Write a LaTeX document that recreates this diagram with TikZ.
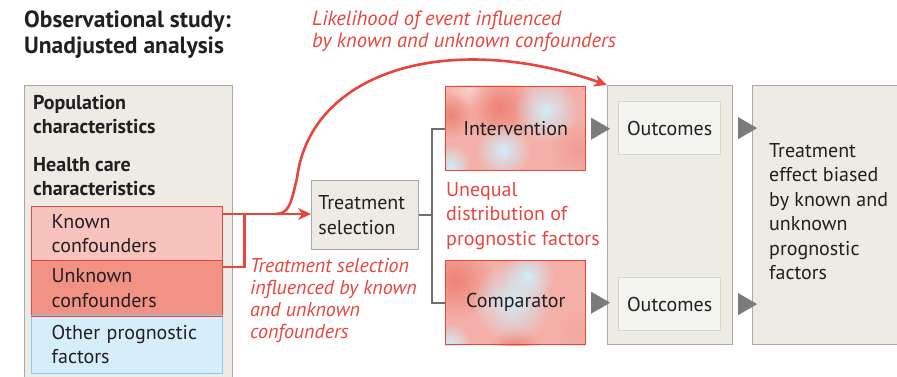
\documentclass[tikz,border=0pt]{standalone}
\usepackage{fontspec}
\setmainfont{PT Sans}
\usetikzlibrary{arrows.meta,calc,fadings}

\definecolor{ink}{HTML}{231F20}
\definecolor{panel}{HTML}{EEEBE5}
\definecolor{panelline}{HTML}{A9A9A9}
\definecolor{jred}{HTML}{E8453C}
\definecolor{knownfill}{HTML}{F7C3BC}
\definecolor{unknownfill}{HTML}{F29285}
\definecolor{otherfill}{HTML}{D6EEF9}
\definecolor{otherline}{HTML}{7FD0F2}
\definecolor{outfill}{HTML}{F5F5F0}
\definecolor{outline}{HTML}{D9D5C6}
\definecolor{pinkbase}{HTML}{F4B0A8}
\definecolor{salmon}{HTML}{EE8275}
\definecolor{paleblue}{HTML}{D2ECF8}
\definecolor{tri}{HTML}{7B7B7D}
\definecolor{wire}{HTML}{6E6E6E}

\tikzfading[name=blob, inner color=transparent!0, outer color=transparent!100]

\tikzset{
  body/.style={font=\fontsize{20}{24.5}\selectfont},
  txt/.style={body, text=ink, inner sep=0pt, anchor=north west, align=left},
  redtxt/.style={txt, text=jred},
  panelbox/.style={draw=panelline, fill=panel, line width=0.8pt, anchor=north west, inner sep=0pt},
  confbox/.style={body, text=ink, draw=jred, line width=1.4pt, anchor=north west,
    minimum width=191pt, inner xsep=20pt, text width=151pt, align=left},
  outbox/.style={body, text=ink, draw=outline, fill=outfill, line width=1.2pt, anchor=north west,
    minimum width=102pt, minimum height=53pt, inner sep=0pt},
  armbox/.style={body, text=ink, draw=jred, line width=1.4pt, anchor=north west,
    minimum width=140pt, minimum height=84pt, inner sep=0pt},
  redline/.style={draw=jred, line width=2.6pt},
  redarrow/.style={redline, -{Stealth[length=13pt,width=12pt]}},
  wireline/.style={draw=wire, line width=1.8pt},
  triarrow/.style={draw=tri, fill=tri, line width=0.4pt, -{Triangle[length=19pt,width=22pt]}}
}

\begin{document}
\begin{tikzpicture}[x=1pt,y=1pt,yscale=-1]
\useasboundingbox (0,0) rectangle (897,377);
\clip (0,0) rectangle (897,377);

% title
\node[txt, font=\fontsize{23.5}{25.5}\bfseries] (title) at (24,11) {Observational study:\\Unadjusted analysis};

% population column
\node[panelbox, minimum width=208pt, minimum height=300pt] (pop) at (24,85) {};
\node[txt, font=\fontsize{20}{24.5}\bfseries] (popchar) at (33,95) {Population\\characteristics};
\node[txt, font=\fontsize{20}{24.5}\bfseries] (hcchar) at (33,157) {Health care\\characteristics};

\node[confbox, fill=knownfill, minimum height=54pt] (known) at (31,206) {Known\\confounders};
\node[confbox, fill=unknownfill, minimum height=55pt] (unknown) at (31,260) {Unknown\\confounders};
\node[confbox, fill=otherfill, draw=otherline, minimum height=58pt] (other) at (31,315) {Other prognostic\\factors};
% redraw the shared red edge on top of the blue box
\draw[jred, line width=1.4pt] (unknown.south west) -- (unknown.south east);

% treatment selection
\node[panelbox, body, text=ink, minimum width=107pt, minimum height=69pt,
      inner xsep=7pt, text width=93pt, align=left] (sel) at (311,180) {Treatment\\selection};

% outcome column and result
\node[panelbox, minimum width=125pt, minimum height=259pt] (outcol) at (607,85) {};
\node[outbox] (outA) at (618,101) {Outcomes};
\node[outbox] (outB) at (618,277) {Outcomes};
\node[panelbox, minimum width=175pt, minimum height=259pt] (effect) at (752,85) {};
\node[txt] (effecttxt) at (769,143)
      {Treatment\\effect biased\\by known and\\unknown\\prognostic\\factors};

% intervention arm, mottled fill
\begin{scope}
  \clip (445,86) rectangle (585,170);
  \fill[pinkbase] (445,86) rectangle (585,170);
  \fill[white!40!pinkbase, path fading=blob] (470,88) circle (26);
  \fill[salmon, path fading=blob] (500,108) circle (34);
  \fill[salmon, path fading=blob] (450,115) circle (24);
  \fill[salmon!80, path fading=blob] (578,150) circle (28);
  \fill[paleblue, path fading=blob] (546,110) circle (32);
  \fill[paleblue, path fading=blob] (503,150) circle (28);
  \fill[paleblue, path fading=blob] (450,166) circle (22);
\end{scope}
\node[armbox] (interv) at (445,86) {Intervention};

% comparator arm, mottled fill
\begin{scope}
  \clip (445,260) rectangle (585,345);
  \fill[pinkbase] (445,260) rectangle (585,345);
  \fill[salmon, path fading=blob] (455,280) circle (40);
  \fill[salmon, path fading=blob] (515,352) circle (26);
  \fill[salmon!70, path fading=blob] (582,330) circle (26);
  \fill[paleblue, path fading=blob] (512,302) circle (40);
  \fill[paleblue, path fading=blob] (528,276) circle (26);
  \fill[paleblue, path fading=blob] (450,345) circle (22);
\end{scope}
\node[armbox] (comp) at (445,260) {Comparator};

% grey split into the two arms
\draw[wireline] (sel.east) -- ++(14,0);
\draw[wireline] (interv.west) -- ++(-13,0) |- (comp.west);

% red confounder links
\draw[redline] ($(unknown.north east)+(0,7)$) -| ($(known.north east)+(21,8)$);
\draw[redarrow] ($(known.north east)+(0,8)$) -- (sel.west |- {$(known.north east)+(0,8)$});
\draw[redarrow] ($(known.north east)+(52,8)$) .. controls ($(known.north east)+(66,8)$) and (291,203) .. (297,178)
      .. controls (311,70) and (450,30) .. (outcol.north west);

% grey pointers
\draw[triarrow, shorten <=5pt, shorten >=-3pt] (interv.east) -- (interv.east -| outcol.west);
\draw[triarrow, shorten <=5pt, shorten >=-3pt] (comp.east) -- (comp.east -| outcol.west);
\draw[triarrow, shorten <=6pt, shorten >=-5pt] (outA.east -| outcol.east) -- (outA.east -| effect.west);
\draw[triarrow, shorten <=6pt, shorten >=-5pt] (outB.east -| outcol.east) -- (outB.east -| effect.west);

% red annotations
\node[redtxt, font=\fontsize{20.5}{21.5}\itshape] (likely) at (312,11) {Likelihood of event influenced\\by known and unknown confounders};
\node[redtxt, font=\fontsize{20}{22}\itshape] (selnote) at (250,258) {Treatment selection\\influenced by known\\and unknown\\confounders};
\node[redtxt] (unequal) at (446,182) {Unequal\\distribution of\\prognostic factors};

\end{tikzpicture}
\end{document}
